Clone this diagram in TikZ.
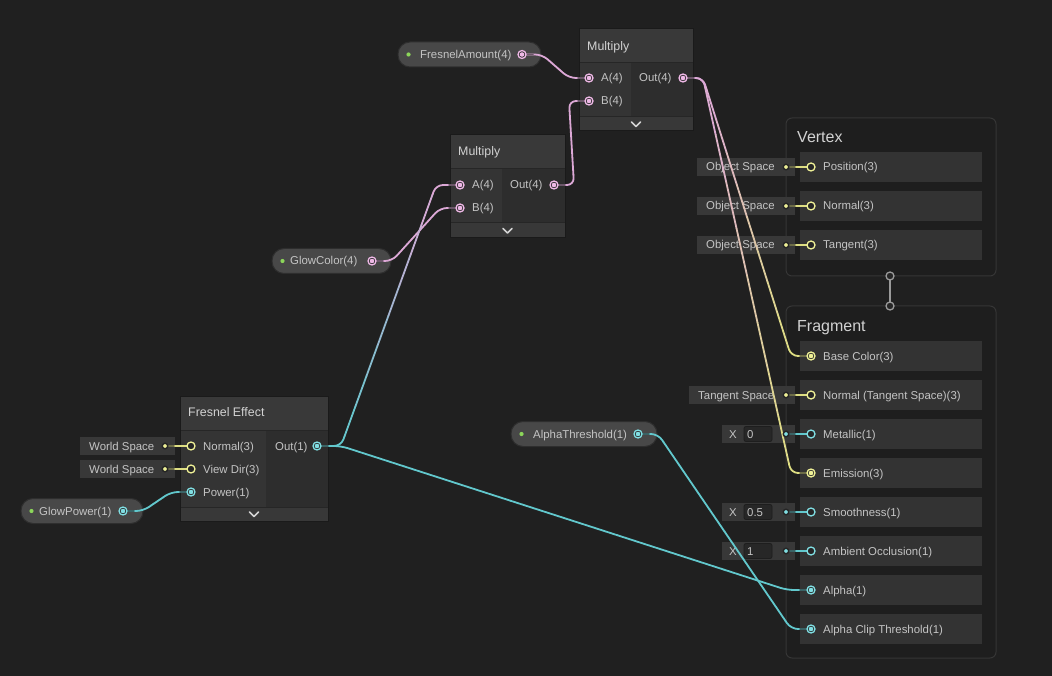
\documentclass[tikz,border=0pt]{standalone}
\usepackage{fontspec}
\setmainfont{Liberation Sans}
\usetikzlibrary{calc}
\definecolor{bgc}{HTML}{202020}
\definecolor{hdrc}{HTML}{393939}
\definecolor{inc}{HTML}{343434}
\definecolor{outc}{HTML}{2D2D2D}
\definecolor{ftc}{HTML}{383838}
\definecolor{sepc}{HTML}{262626}
\definecolor{nbord}{HTML}{1A1A1A}
\definecolor{pillc}{HTML}{484848}
\definecolor{pillb}{HTML}{2E2E2E}
\definecolor{stackc}{HTML}{1E1E1E}
\definecolor{stackb}{HTML}{363636}
\definecolor{slotc}{HTML}{333333}
\definecolor{inlc}{HTML}{383838}
\definecolor{fieldc}{HTML}{272727}
\definecolor{fieldb}{HTML}{1E1E1E}
\definecolor{txt}{HTML}{C4C4C4}
\definecolor{ttxt}{HTML}{D2D2D2}
\definecolor{ringbg}{HTML}{262626}
\definecolor{pinkP}{RGB}{238,184,230}
\definecolor{blueP}{RGB}{128,222,226}
\definecolor{yellowP}{RGB}{238,240,150}
\definecolor{pinkW}{RGB}{220,168,214}
\definecolor{blueW}{RGB}{98,200,205}
\definecolor{yellowW}{RGB}{222,222,130}
\definecolor{greenD}{RGB}{140,214,90}
\definecolor{linkc}{HTML}{9A9A9A}

\tikzset{
  lbl/.style={text=txt, font=\fontsize{11.4}{13}\selectfont, anchor=base west, inner sep=0pt, yshift=-4pt},
  ttl/.style={text=ttxt, font=\fontsize{12.4}{14}\selectfont, anchor=base west, inner sep=0pt, yshift=-4.4pt},
  hdr/.style={text=ttxt, font=\fontsize{16}{18}\selectfont, anchor=base west, inner sep=0pt, yshift=-5.7pt},
  edgeln/.style={line width=1.8pt, line cap=round, line join=round},
  chev/.style={draw=ttxt, line width=1.5pt, line cap=round, line join=round},
  pring/.style={circle, draw=#1, fill=ringbg, line width=1.3pt, minimum size=8pt, inner sep=0pt},
  pcon/.style={circle, draw=#1, fill=ringbg, line width=1.3pt, minimum size=8pt, inner sep=0pt,
     path picture={\fill[#1] (path picture bounding box.center) circle (2.3pt);}},
  idot/.style={circle, fill=#1, draw=ringbg, line width=1.4pt, minimum size=5.5pt, inner sep=0pt},
}

% graph node body: x1, x2, ytop, yheader, xsplit, ybody, yfoot
\newcommand\gnode[7]{%
  \fill[hdrc] (#1,#3) rectangle (#2,#4);
  \fill[inc] (#1,#4) rectangle (#5,#6);
  \fill[outc] (#5,#4) rectangle (#2,#6);
  \fill[ftc] (#1,#6) rectangle (#2,#7);
  \draw[sepc,line width=1pt] (#1,#4) -- (#2,#4) (#1,#6) -- (#2,#6);
  \draw[nbord,line width=1pt] (#1,#3) rectangle (#2,#7);
  \draw[chev] ({(#1+#2)/2-4.5},{(#6+#7)/2-2}) -- ({(#1+#2)/2},{(#6+#7)/2+2.5}) -- ({(#1+#2)/2+4.5},{(#6+#7)/2-2});
}

% property pill: name, x1, x2, yc, text, textx
\newcommand\pill[6]{%
  \filldraw[fill=pillc, draw=pillb, line width=1pt, rounded corners=12pt] (#2,#4-12.5) rectangle (#3,#4+12.5);
  \fill[greenD] ({#2+10.5},#4) circle (2.1pt);
  \node[lbl] (#1t) at (#6,#4) {#5};
}

% inline box: name, x1, x2, yc, text, textx
\newcommand\inl[6]{%
  \fill[inlc] (#2,#4-9) rectangle (#3,#4+9);
  \node[lbl] (#1t) at (#6,#4) {#5};
  \coordinate (#1) at (786,#4);
}

% value field: name, yc, value
\newcommand\xfield[3]{%
  \fill[inlc] (722,#2-9) rectangle (795,#2+9);
  \node[lbl] (#1x) at (729,#2) {X};
  \filldraw[fill=fieldc, draw=fieldb, line width=0.8pt, rounded corners=2pt] (744,#2-7.5) rectangle (772,#2+7.5);
  \node[lbl] (#1v) at (747,#2) {#3};
  \coordinate (#1) at (786,#2);
}

% wire: [offset] start, end, colour at start, colour at end
\newcommand\wire[5][20]{%
  \path (#2) ++(#1,0) coordinate (wa);
  \path (#3) ++(-#1,0) coordinate (wb);
  \coordinate (wp1) at ($(wa)!10pt!(wb)$);
  \coordinate (wp2) at ($(wb)!10pt!(wa)$);
  \draw[edgeln,#4,rounded corners=7pt] (#2) -- (wa) -- (wp1);
  \foreach \k in {0,...,7}{%
    \pgfmathsetmacro\ta{\k/8}%
    \pgfmathsetmacro\tb{(\k+1)/8}%
    \pgfmathtruncatemacro\mm{(\k+0.5)*12.5}%
    \draw[edgeln,color=#5!\mm!#4] ($(wp1)!\ta!(wp2)$) -- ($(wp1)!\tb!(wp2)$);
  }
  \draw[edgeln,#5,rounded corners=7pt] (wp2) -- (wb) -- (#3);
  \draw[edgeln,#4!40!bgc] (#2) -- ++(11,0);
  \draw[edgeln,#5!40!bgc] (#3) -- ++(-11,0);
}

\begin{document}
\begin{tikzpicture}[x=1pt,y=-1pt]
\useasboundingbox (0,0) rectangle (1052,676);
\fill[bgc] (0,0) rectangle (1052,676);

% ---------- Multiply 1 ----------
\gnode{579}{693}{29}{63}{631}{117}{131}
\node[ttl] (m1t) at (587,46) {Multiply};
\node[lbl] (m1At) at (601,78) {A(4)};
\node[lbl] (m1Bt) at (601,101) {B(4)};
\node[lbl] (m1Ot) at (639,78) {Out(4)};
\coordinate (m1A) at (589,78);
\coordinate (m1B) at (589,101);
\coordinate (m1O) at (683,78);

% ---------- Multiply 2 ----------
\gnode{450}{565}{135}{169}{502}{223}{238}
\node[ttl] (m2t) at (458,151) {Multiply};
\node[lbl] (m2At) at (472,185) {A(4)};
\node[lbl] (m2Bt) at (472,208) {B(4)};
\node[lbl] (m2Ot) at (510,185) {Out(4)};
\coordinate (m2A) at (460,185);
\coordinate (m2B) at (460,208);
\coordinate (m2O) at (554,185);

% ---------- Fresnel Effect ----------
\gnode{180}{328}{396}{430}{266}{507}{521}
\node[ttl] (fet) at (188,412) {Fresnel Effect};
\node[lbl] (feNt) at (203,446) {Normal(3)};
\node[lbl] (feVt) at (203,469) {View Dir(3)};
\node[lbl] (fePt) at (203,492) {Power(1)};
\node[lbl] (feOt) at (275,446) {Out(1)};
\coordinate (feN) at (191,446);
\coordinate (feV) at (191,469);
\coordinate (feP) at (191,492);
\coordinate (feO) at (317,446);
\fill[inlc] (80,437) rectangle (175,455);
\node[lbl] (ws1t) at (89,446) {World Space};
\coordinate (ws1) at (165,446);
\fill[inlc] (80,460) rectangle (175,478);
\node[lbl] (ws2t) at (89,469) {World Space};
\coordinate (ws2) at (165,469);

% ---------- Properties ----------
\pill{fa}{398}{541}{54.5}{FresnelAmount(4)}{420}
\coordinate (faO) at (522,54.5);
\pill{gc}{272}{391}{261}{GlowColor(4)}{290}
\coordinate (gcO) at (372,261);
\pill{gp}{21}{143}{511}{GlowPower(1)}{39}
\coordinate (gpO) at (123,511);
\pill{at}{511}{657}{434}{AlphaThreshold(1)}{533}
\coordinate (atO) at (638,434);

% ---------- Vertex stack ----------
\filldraw[fill=stackc, draw=stackb, line width=1pt, rounded corners=6pt] (786,118) rectangle (996,276);
\node[hdr] (vtt) at (797,137) {Vertex};
\foreach \yc/\nm/\tx in {167/vPos/Position(3), 206/vNrm/Normal(3), 245/vTan/Tangent(3)}{
  \fill[slotc] (800,\yc-15) rectangle (982,\yc+15);
  \node[lbl] (\nm t) at (823,\yc) {\tx};
  \coordinate (\nm) at (811,\yc);
}
\inl{os1}{697}{795}{167}{Object Space}{706}
\inl{os2}{697}{795}{206}{Object Space}{706}
\inl{os3}{697}{795}{245}{Object Space}{706}

% ---------- Fragment stack ----------
\filldraw[fill=stackc, draw=stackb, line width=1pt, rounded corners=6pt] (786,306) rectangle (996,658);
\node[hdr] (frt) at (797,326) {Fragment};
\foreach \yc/\nm/\tx in {356/frBase/Base Color(3), 395/frNrm/Normal (Tangent Space)(3), 434/frMet/Metallic(1), 473/frEmi/Emission(3), 512/frSmo/Smoothness(1), 551/frAO/Ambient Occlusion(1), 590/frAlp/Alpha(1), 629/frClip/Alpha Clip Threshold(1)}{
  \fill[slotc] (800,\yc-15) rectangle (982,\yc+15);
  \node[lbl] (\nm t) at (823,\yc) {\tx};
  \coordinate (\nm) at (811,\yc);
}
\inl{ts}{689}{795}{395}{Tangent Space}{698}
\xfield{xm}{434}{0}
\xfield{xs}{512}{0.5}
\xfield{xo}{551}{1}

% vertex-fragment link
\coordinate (vlk) at (890,276);
\coordinate (flk) at (890,306);
\draw[linkc, line width=1.6pt] (vlk) -- (flk);

% ---------- short inline connectors ----------
\foreach \a/\b in {ws1/feN, ws2/feV, os1/vPos, os2/vNrm, os3/vTan, ts/frNrm}{
  \draw[edgeln, yellowW] (\a) -- (\b);
  \draw[edgeln, yellowW!40!bgc] (\a) -- ++(9,0);
}
\foreach \a/\b in {xm/frMet, xs/frSmo, xo/frAO}{
  \draw[edgeln, blueW] (\a) -- (\b);
  \draw[edgeln, blueW!40!bgc] (\a) -- ++(9,0);
}

% ---------- wires ----------
\wire{faO}{m1A}{pinkW}{pinkW}
\wire{m2O}{m1B}{pinkW}{pinkW}
\wire{m1O}{frBase}{pinkW}{yellowW}
\wire{m1O}{frEmi}{pinkW}{yellowW}
\wire{gcO}{m2B}{pinkW}{pinkW}
\wire[24]{feO}{m2A}{blueW}{pinkW}
\wire[24]{feO}{frAlp}{blueW}{blueW}
\wire{atO}{frClip}{blueW}{blueW}
\wire{gpO}{feP}{blueW}{blueW}

% ---------- ports ----------
\node[pcon=pinkP] (m1Ar) at (m1A) {};
\node[pcon=pinkP] (m1Br) at (m1B) {};
\node[pcon=pinkP] (m1Or) at (m1O) {};
\node[pcon=pinkP] (m2Ar) at (m2A) {};
\node[pcon=pinkP] (m2Br) at (m2B) {};
\node[pcon=pinkP] (m2Or) at (m2O) {};
\node[pcon=pinkP] (faOr) at (faO) {};
\node[pcon=pinkP] (gcOr) at (gcO) {};
\node[pcon=blueP] (gpOr) at (gpO) {};
\node[pcon=blueP] (atOr) at (atO) {};
\node[pring=yellowP] (feNr) at (feN) {};
\node[pring=yellowP] (feVr) at (feV) {};
\node[pcon=blueP] (fePr) at (feP) {};
\node[pcon=blueP] (feOr) at (feO) {};
\node[pring=yellowP] (vPosr) at (vPos) {};
\node[pring=yellowP] (vNrmr) at (vNrm) {};
\node[pring=yellowP] (vTanr) at (vTan) {};
\node[pcon=yellowP] (frBaser) at (frBase) {};
\node[pring=yellowP] (frNrmr) at (frNrm) {};
\node[pring=blueP] (frMetr) at (frMet) {};
\node[pcon=yellowP] (frEmir) at (frEmi) {};
\node[pring=blueP] (frSmor) at (frSmo) {};
\node[pring=blueP] (frAOr) at (frAO) {};
\node[pcon=blueP] (frAlpr) at (frAlp) {};
\node[pcon=blueP] (frClipr) at (frClip) {};
\foreach \d in {ws1, ws2, os1, os2, os3, ts}{ \node[idot=yellowP] (\d d) at (\d) {}; }
\foreach \d in {xm, xs, xo}{ \node[idot=blueP] (\d d) at (\d) {}; }
\node[pring=linkc] (vlkr) at (vlk) {};
\node[pring=linkc] (flkr) at (flk) {};
\end{tikzpicture}
\end{document}
